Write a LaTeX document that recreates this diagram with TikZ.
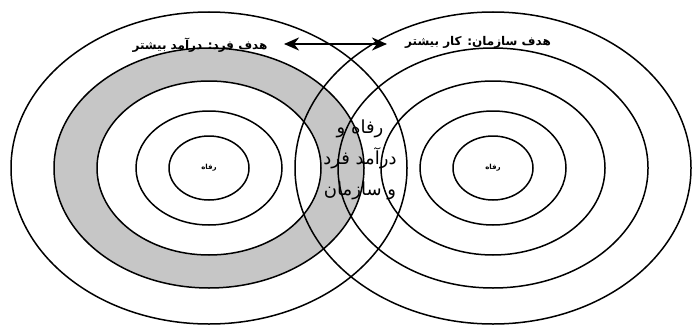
\documentclass[tikz,border=0pt]{standalone}
\usepackage{fontspec}
\usetikzlibrary{arrows.meta}
\newfontfamily\arabicfont[Script=Arabic]{DejaVu Sans}
\newfontfamily\arabicbold[Script=Arabic]{DejaVu Sans Bold}
\TeXXeTstate=1
\tikzset{
  ring/.style={draw=black, line width=1.5pt},
  shade/.style={fill=gray!45, even odd rule},
  toplabel/.style={font=\arabicbold\fontsize{12}{13}\selectfont, inner sep=0pt},
  smalllabel/.style={font=\arabicbold\fontsize{7}{8}\selectfont, inner sep=0pt},
  midlabel/.style={font=\arabicfont\fontsize{18}{31}\selectfont, align=center, inner sep=0pt},
  goalarrow/.style={line width=2.6pt, {Stealth[length=15pt,width=13pt]}-{Stealth[length=15pt,width=13pt]}}
}
\begin{document}
\begin{tikzpicture}[x=1pt,y=-1pt]
\useasboundingbox (0,0) rectangle (692,329);
\fill[white] (0,0) rectangle (692,329);
\coordinate (L) at (209,168);
\coordinate (R) at (493,168);
% shaded ring of the left set
\path[shade] (L) ellipse [x radius=155pt, y radius=120pt]
             (L) ellipse [x radius=112pt, y radius=87pt];
% left set
\foreach \a/\b in {40/32, 73/57, 112/87, 155/120, 198/156}
  \draw[ring] (L) ellipse [x radius=\a pt, y radius=\b pt];
% right set
\foreach \a/\b in {40/32, 73/57, 112/87, 155/120, 198/156}
  \draw[ring] (R) ellipse [x radius=\a pt, y radius=\b pt];
% labels
\node[smalllabel] (lw) at (L) {\beginR رفاه\endR};
\node[smalllabel] (rw) at (R) {\beginR رفاه\endR};
\node[toplabel] (lg) at (200,45) {\beginR هدف فرد: درآمد بیشتر\endR};
\node[toplabel] (rg) at (478,42) {\beginR هدف سازمان: کار بیشتر\endR};
\coordinate (al) at (284,44);
\coordinate (ar) at (387,44);
\draw[goalarrow] (al) -- (ar);
\node[midlabel] (mid) at (360,160) {\beginR رفاه و\endR\\\beginR درآمد فرد\endR\\\beginR و سازمان\endR};
\end{tikzpicture}
\end{document}
